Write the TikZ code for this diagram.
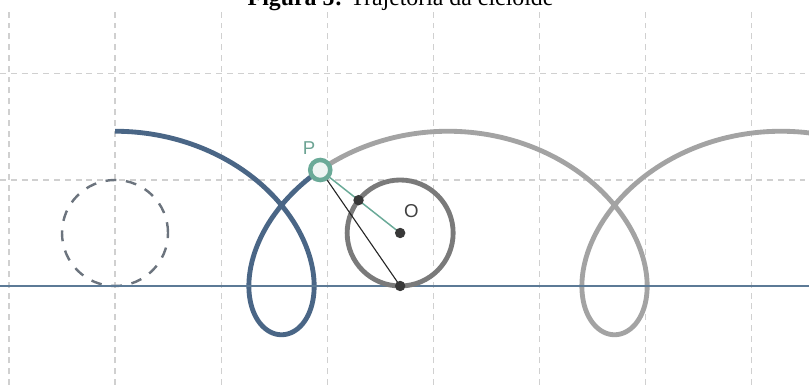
\documentclass[tikz,border=0pt]{standalone}
\usepackage{fontspec}
\setmainfont{Liberation Serif}
\setsansfont{Liberation Sans}
\definecolor{curveblue}{RGB}{74,102,134}
\definecolor{curvegray}{RGB}{163,163,163}
\definecolor{wheelgray}{RGB}{122,122,122}
\definecolor{pointgreen}{RGB}{106,170,152}
\definecolor{groundblue}{RGB}{92,122,150}
\definecolor{gridgray}{RGB}{208,208,208}

\begin{document}
\begin{tikzpicture}[x=2cm, y=2cm, every node/.style={font=\sffamily\fontsize{10}{12}\selectfont},
	gridline/.style={gridgray, dash pattern=on 3.2pt off 2.6pt, line width=0.55pt},
	dot/.style={circle, fill=black!78, inner sep=0pt, minimum size=5.6pt},
	pring/.style={circle, draw=pointgreen, line width=2.4pt, fill=pointgreen!12, inner sep=0pt, minimum size=10.8pt}]
	\useasboundingbox (-1.085,-0.934) rectangle (6.547,2.698);
	\clip (-1.085,-0.934) rectangle (6.547,2.698);
	% grid
	\foreach \x in {-1,...,6} \draw[gridline] (\x,-0.934) -- (\x,2.61);
	\foreach \y in {1,2} \draw[gridline] (-1.085,\y) -- (6.547,\y);
	\node[anchor=base, font=\rmfamily\fontsize{12.8}{15}\selectfont] (title) at (2.694,2.645) {\textbf{Figura 5:} Trajetória da cicloide};
	% starting wheel and trajectory
	\draw[wheelgray!70!curveblue, line width=1.3pt, dash pattern=on 5.8pt off 5.2pt] (0,0.5) circle (0.5);
	\draw[curvegray, line width=2.6pt] plot[domain=5.38:13.1, samples=200, variable=\t] ({0.5*\t+0.96*sin(\t r)}, {0.5+0.96*cos(\t r)});
	\draw[curveblue, line width=2.6pt] plot[domain=0:5.38, samples=160, variable=\t] ({0.5*\t+0.96*sin(\t r)}, {0.5+0.96*cos(\t r)});
	\draw[groundblue, line width=0.8pt] (-1.085,0) -- (6.547,0);
	% rolling wheel
	\coordinate (O) at (2.69,0.5);
	\coordinate (T) at (2.69,0);
	\coordinate (P) at ({2.69+0.96*sin(5.38 r)},{0.5+0.96*cos(5.38 r)});
	\coordinate (Q) at ({2.69+0.5*sin(5.38 r)},{0.5+0.5*cos(5.38 r)});
	\draw[wheelgray, line width=2.6pt] (O) circle (0.5);
	\draw[pointgreen, line width=0.8pt] (P) -- (O);
	\draw[black!85, line width=0.6pt] (P) -- (T);
	\node[dot] (o) at (O) {};
	\node[dot] (t) at (T) {};
	\node[dot] (q) at (Q) {};
	\node[pring] (p) at (P) {};
	\node[pointgreen!85!gray] (plabel) at (1.83,1.30) {P};
	\node[black!75] (olabel) at (2.795,0.71) {O};
\end{tikzpicture}
\end{document}
